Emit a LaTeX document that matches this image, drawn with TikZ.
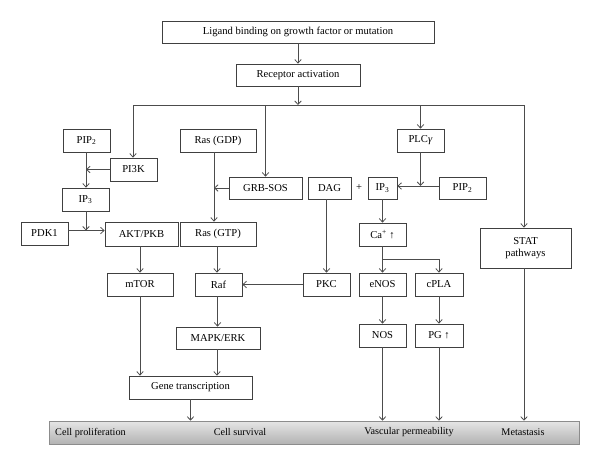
\documentclass[tikz,border=0pt]{standalone}
\usepackage{fontspec}
\setmainfont{Liberation Serif}
\usetikzlibrary{arrows.meta,calc}
\begin{document}
\begin{tikzpicture}[x=1pt,y=-1pt,
  box/.style={draw=black!75,line width=0.8pt,fill=white,inner sep=1pt,font=\fontsize{10.6}{12}\selectfont},
  conn/.style={draw=black!70,line width=0.8pt},
  arr/.style={conn,-{Straight Barb[length=3.5pt,width=6.5pt]}},
  barlabel/.style={font=\fontsize{10.2}{12}\selectfont,inner sep=0pt}]
\useasboundingbox (0,0) rectangle (600,464);
% nodes
\node[box,minimum width=272pt,minimum height=22pt] (lig) at (298,32) {Ligand binding on growth factor or mutation};
\node[box,minimum width=124pt,minimum height=22pt] (rec) at (298,75) {Receptor activation};
\node[box,minimum width=47pt,minimum height=23pt] (pipl) at (86.5,140.5) {PIP\textsubscript{2}};
\node[box,minimum width=47pt,minimum height=23pt] (pi3k) at (133.5,169.5) {PI3K};
\node[box,minimum width=47pt,minimum height=23pt] (ipl) at (85.5,199.5) {IP\textsubscript{3}};
\node[box,minimum width=47pt,minimum height=23pt] (pdk) at (44.5,233.5) {PDK1};
\node[box,minimum width=73pt,minimum height=24pt] (akt) at (141.5,234) {AKT/PKB};
\node[box,minimum width=76pt,minimum height=23pt] (rasgdp) at (218,140.5) {Ras (GDP)};
\node[box,minimum width=76pt,minimum height=24pt] (rasgtp) at (218,234) {Ras (GTP)};
\node[box,minimum width=73pt,minimum height=22pt] (grb) at (265.5,188) {GRB-SOS};
\node[box,minimum width=66pt,minimum height=23pt] (mtor) at (140,284.5) {mTOR};
\node[box,minimum width=47pt,minimum height=23pt] (raf) at (218.5,284.5) {Raf};
\node[box,minimum width=84pt,minimum height=22pt] (mapk) at (218,338) {MAPK/ERK};
\node[box,minimum width=123pt,minimum height=23pt] (gene) at (190.5,387.5) {Gene transcription};
\node[box,minimum width=43pt,minimum height=22pt] (dag) at (329.5,188) {DAG};
\node[box,minimum width=47pt,minimum height=23pt] (pkc) at (326.5,284.5) {PKC};
\node[font=\fontsize{10.6}{12}\selectfont,inner sep=0pt] (plus) at (359,188) {+};
\node[box,minimum width=29pt,minimum height=22pt] (ipr) at (382.5,188) {IP\textsubscript{3}};
\node[box,minimum width=47pt,minimum height=22pt] (pipr) at (462.5,188) {PIP\textsubscript{2}};
\node[box,minimum width=47pt,minimum height=23pt] (plc) at (420.5,140.5) {PLC\textit{γ}};
\node[box,minimum width=47pt,minimum height=23pt] (ca) at (382.5,234.5) {Ca\textsuperscript{+} ↑};
\node[box,minimum width=47pt,minimum height=23pt] (enos) at (382.5,284.5) {eNOS};
\node[box,minimum width=48pt,minimum height=23pt] (cpla) at (439,284.5) {cPLA};
\node[box,minimum width=47pt,minimum height=23pt] (nos) at (382.5,335.5) {NOS};
\node[box,minimum width=48pt,minimum height=23pt] (pg) at (439,335.5) {PG ↑};
\node[box,minimum width=91pt,minimum height=40pt,align=center] (stat) at (525.5,248) {STAT\\pathways};
% bottom bar
\node[draw=black!45,line width=0.6pt,top color=gray!20,bottom color=gray!60,minimum width=530pt,minimum height=23pt,inner sep=0pt] (bar) at (314,432.5) {};
\node[barlabel,anchor=west] (l1) at (55,432.5) {Cell proliferation};
\node[barlabel] (l2) at (240,432.5) {Cell survival};
\node[barlabel] (l3) at (409,432.5) {Vascular permeability};
\node[barlabel] (l4) at (523,432.5) {Metastasis};
% coordinates
\coordinate (hL) at (133,105);
\coordinate (hR) at (524,105);
\coordinate (hC) at (298,105);
\coordinate (hG) at (265.5,105);
\coordinate (hP) at (420.5,105);
\coordinate (j1) at (86,230.5);
\coordinate (cab) at (382.5,259);
\coordinate (cpb) at (439,259);
% connectors
\draw[arr] (lig) -- (rec);
\draw[arr] (rec) -- (hC);
\draw[conn] (hL) -- (hR);
\draw[arr] (hL) -- (pi3k.north -| hL);
\draw[arr] (hG) -- (grb.north);
\draw[arr] (hP) -- (plc.north);
\draw[arr] (hR) -- (stat.north -| hR);
\draw[arr] (pipl.south -| j1) -- (ipl.north -| j1);
\draw[arr] (pi3k.west) -- (pi3k.west -| j1);
\draw[arr] (ipl.south -| j1) -- (j1);
\draw[arr] (pdk.east |- j1) -- (akt.west |- j1);
\draw[arr] (akt.south -| mtor.north) -- (mtor.north);
\draw[arr] (mtor.south) -- (mtor.south |- gene.north);
\draw[arr] ([xshift=-4pt]rasgdp.south) -- ([xshift=-4pt]rasgtp.north);
\draw[arr] (grb.west) -- (grb.west -| 214,0);
\draw[arr] ([xshift=-1pt]rasgtp.south) -- ([xshift=-1pt]rasgtp.south |- raf.north);
\draw[arr] ([xshift=-1pt]raf.south) -- ([xshift=-1pt]raf.south |- mapk.north);
\draw[arr] ([xshift=-1pt]mapk.south) -- ([xshift=-1pt]mapk.south |- gene.north);
\draw[arr] (gene.south) -- (gene.south |- bar.north);
\draw[arr] (pkc.west) -- (raf.east |- pkc.west);
\draw[arr] (pkc.north |- dag.south) -- (pkc.north);
\draw[arr] (plc.south) -- (plc.south |- 0,186);
\draw[arr] (pipr.west |- 0,186) -- (ipr.east |- 0,186);
\draw[arr] (ipr.south) -- (ca.north);
\draw[arr] (ca.south) -- (enos.north);
\draw[arr] (cab) -- (cpb) -- (cpla.north);
\draw[arr] (enos.south) -- (nos.north);
\draw[arr] (cpla.south) -- (pg.north);
\draw[arr] (nos.south) -- (nos.south |- bar.north);
\draw[arr] (pg.south) -- (pg.south |- bar.north);
\draw[arr] (stat.south -| hR) -- (bar.north -| hR);
\end{tikzpicture}
\end{document}
